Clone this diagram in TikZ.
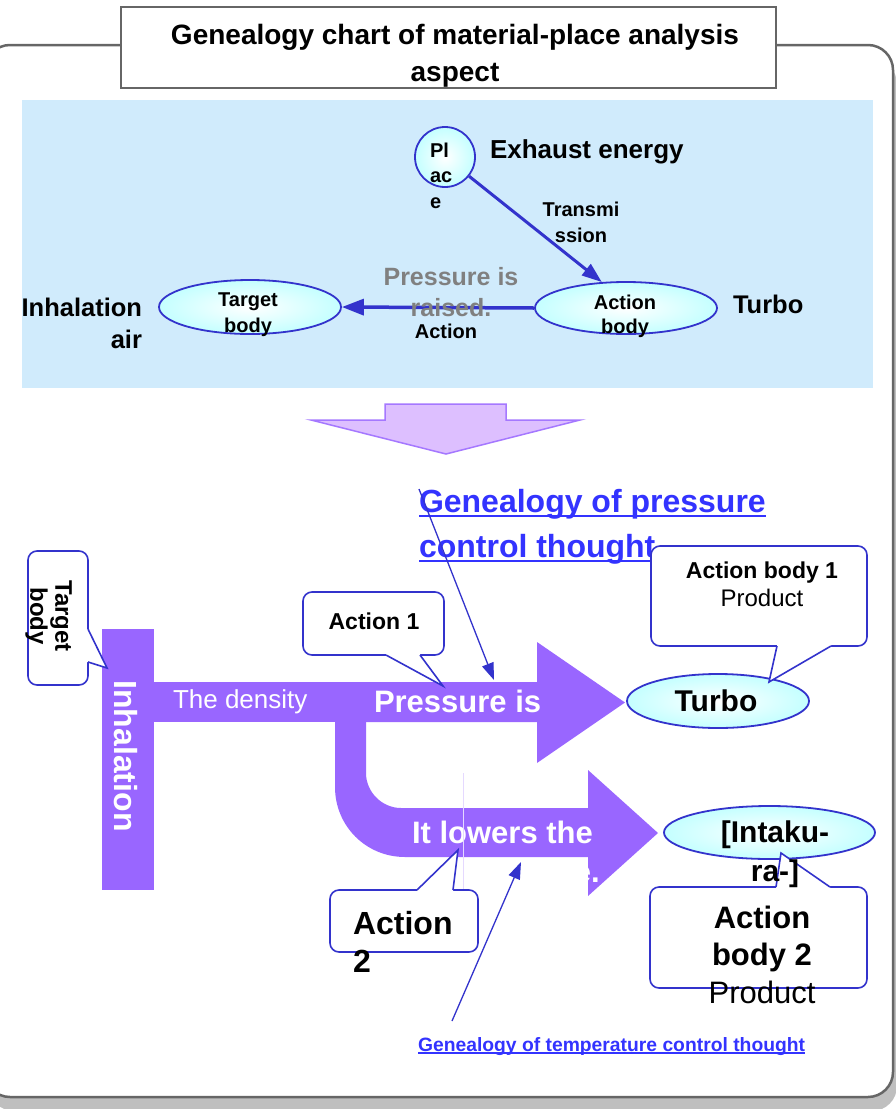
\documentclass[tikz,border=0pt]{standalone}
\usepackage{fontspec}
\setmainfont{Liberation Sans}
\usetikzlibrary{arrows.meta,shapes.geometric}

\definecolor{linkblue}{RGB}{51,51,255}
\definecolor{lineblue}{RGB}{51,51,204}
\definecolor{flowpurple}{RGB}{153,102,255}
\definecolor{skyfill}{RGB}{208,235,252}
\definecolor{framegray}{RGB}{102,102,102}
\definecolor{shadowgray}{RGB}{191,191,191}
\definecolor{lavfill}{RGB}{221,191,255}
\definecolor{lavline}{RGB}{165,120,255}
\definecolor{cyanfill}{RGB}{196,255,255}
\definecolor{pressgray}{RGB}{128,128,128}
\definecolor{faintlav}{RGB}{229,217,255}

% font size / baseline skip in one go
\newcommand\fsz[2]{\fontsize{#1}{#2}\selectfont}
% underlined link text: #1 = rule offset, #2 = rule thickness, #3 = text
\newcommand\ulink[3]{\setbox0\hbox{#3}\rlap{\rule[#1]{\wd0}{#2}}\box0}

\tikzset{
  txt/.style={inner sep=0pt, outer sep=0pt},
  ell/.style={ellipse, draw=lineblue, line width=1.8pt, inner color=white,
              outer color=cyanfill, inner sep=0pt},
  callbox/.style={draw=lineblue, line width=1.6pt, fill=white,
                  rounded corners=9pt, inner sep=0pt},
  tailline/.style={draw=lineblue, line width=1.6pt, line join=miter},
  thickarrow/.style={draw=lineblue, line width=3pt,
                     -{Triangle[length=20pt,width=14pt]}},
  linkarrow/.style={draw=lineblue, line width=1.3pt,
                    -{Triangle[length=17pt,width=12pt]}},
}

\begin{document}
\begin{tikzpicture}[x=1pt,y=-1pt]
\useasboundingbox (0,0) rectangle (896,1109);

% ---------- outer frame with its shadow ----------
\fill[shadowgray, rounded corners=25pt] (-11,59) rectangle (897,1111);
\draw[framegray, line width=2.5pt, fill=white, rounded corners=25pt]
  (-15,45) rectangle (893,1097);

% ---------- title ----------
\node[draw=framegray, line width=2pt, fill=white, minimum width=655pt,
      minimum height=81pt, inner sep=0pt] (titlebox) at (448,47.5) {};
\node[txt, anchor=north, align=center, font=\fsz{28}{37}\bfseries]
  (title) at (455,24.5) {Genealogy chart of material-place analysis\\aspect};

% ---------- material-place triangle ----------
\fill[skyfill] (22,100) rectangle (873,388);

\node[ell, minimum width=60pt, minimum height=60pt] (place) at (445,157) {};
\node[ell, minimum width=182pt, minimum height=54pt] (target) at (250,307) {};
\node[ell, minimum width=182pt, minimum height=52pt] (actbody) at (626,308) {};

\draw[thickarrow] (place) -- (actbody.133);
\draw[draw=lineblue, line width=3.5pt, -{Triangle[length=22pt,width=16pt]}]
  (actbody.west) -- (target.east);

\node[txt, anchor=north west, align=left, font=\fsz{20}{25.5}\bfseries]
  (placetxt) at (430,143) {Pl\\ac\\e};
\node[txt, anchor=base west, font=\fsz{26}{30}\bfseries]
  (exhaust) at (490,158) {Exhaust energy};
\node[txt, anchor=north, align=center, font=\fsz{20}{26}\bfseries]
  (transtxt) at (581,202) {Transmi\\ssion};
\node[txt, anchor=north, align=center, font=\fsz{20}{26}\bfseries]
  (targettxt) at (248,293) {Target\\body};
\node[txt, anchor=north, align=center, font=\fsz{20}{24}\bfseries]
  (actbodytxt) at (625,295) {Action\\body};
\node[txt, anchor=north, align=center, text=pressgray, font=\fsz{25}{31}\bfseries]
  (raisedtxt) at (451,267) {Pressure is\\raised.};
\node[txt, anchor=base, font=\fsz{20}{24}\bfseries]
  (actiontxt) at (446,338) {Action};
\node[txt, anchor=north east, align=right, font=\fsz{25.5}{32}\bfseries]
  (inhaltop) at (142,298) {Inhalation\\air};
\node[txt, anchor=base west, font=\fsz{25.5}{30}\bfseries]
  (turbotop) at (733,313) {Turbo};

% ---------- transition arrow ----------
\filldraw[fill=lavfill, draw=lavline, line width=1.5pt, line join=miter]
  (385,404) -- (506,404) -- (506,420) -- (580,420) -- (446,454)
  -- (311,420) -- (385,420) -- cycle;

% ---------- pressure-control link ----------
\node[txt, anchor=north west, align=left, text=linkblue, font=\fsz{32}{45}\bfseries]
  (link1) at (419,489)
  {\ulink{-5pt}{1.8pt}{Genealogy of pressure}\\\ulink{-5pt}{1.8pt}{control thought}};

% ---------- flow of the intake air ----------
\fill[flowpurple] (102,629) rectangle (154,890);
\fill[flowpurple] (153,682) rectangle (336,722);
\fill[flowpurple] (335,682) -- (537,682) -- (537,642) -- (625,702.5)
  -- (537,763) -- (537,722) -- (335,722) -- cycle;
\fill[flowpurple] (335,682) -- (366,682) -- (366,773)
  .. controls (366,792) and (382,808) .. (401,808)
  -- (588,808) -- (588,770) -- (658,833) -- (588,896) -- (588,857) -- (405,857)
  .. controls (366,857) and (335,826) .. (335,787) -- cycle;

\node[txt, rotate=-90, text=white, font=\fsz{32}{36}\bfseries]
  (inhal) at (126,756) {Inhalation};
\node[txt, anchor=base west, text=white, font=\fsz{26}{30}]
  (density) at (173,708) {The density};
\node[txt, anchor=base west, text=white, font=\fsz{31}{36}\bfseries]
  (presstxt) at (374,712) {Pressure is};
\node[txt, anchor=north west, align=left, text=white, font=\fsz{31}{39}\bfseries]
  (lowertxt) at (412,821) {It lowers the\\temperature.};

\draw[faintlav, line width=1pt] (463,773) -- (463,890);

% ---------- product ellipses ----------
\node[ell, minimum width=182pt, minimum height=54pt] (turbo) at (718,701) {};
\node[ell, minimum width=211pt, minimum height=53pt] (intake) at (769.5,832.5) {};

% ---------- callouts ----------
% target body
\node[callbox, minimum width=60pt, minimum height=134pt] (cTarget) at (58,618) {};
\fill[white] (85,629) -- (88,629) -- (107,668) -- (88,662) -- (85,662) -- cycle;
\draw[tailline] (88,629) -- (107,668) -- (88,662);
\node[txt, rotate=-90, anchor=north, align=center, font=\fsz{24}{25}\bfseries]
  (cTargetTxt) at (72,616) {Target\\body};

% action 1
\node[callbox, minimum width=141pt, minimum height=63pt] (cAct1) at (373.5,623.5) {};
\fill[white] (386,652) -- (386,655) -- (443,686) -- (420,655) -- (420,652) -- cycle;
\draw[tailline] (386,655) -- (443,686) -- (420,655);
\node[txt, anchor=base, font=\fsz{23}{28}\bfseries] (cAct1Txt) at (374,629) {Action 1};

% action body 1
\node[callbox, minimum width=216pt, minimum height=100pt] (cBody1) at (759,596) {};
\fill[white] (777,643) -- (777,646) -- (769,682) -- (831,646) -- (831,643) -- cycle;
\draw[tailline] (777,646) -- (769,682) -- (831,646);
\node[txt, anchor=north, align=center, font=\fsz{23}{28}]
  (cBody1Txt) at (762,562) {{\bfseries Action body 1}\\{\fontsize{24}{28}\selectfont Product}};

% action 2
\node[callbox, minimum width=148pt, minimum height=62pt] (cAct2) at (404,921) {};
\fill[white] (417,893) -- (417,890) -- (458,850) -- (453,890) -- (453,893) -- cycle;
\draw[tailline] (417,890) -- (458,850) -- (453,890);
\node[txt, anchor=north west, align=left, font=\fsz{32}{38}\bfseries]
  (cAct2Txt) at (353,911) {Action\\2};

% action body 2
\node[callbox, minimum width=217pt, minimum height=101pt] (cBody2) at (758.5,937.5) {};
\fill[white] (776,890) -- (776,887) -- (781,853) -- (830,887) -- (830,890) -- cycle;
\draw[tailline] (776,887) -- (781,853) -- (830,887);
\node[txt, anchor=north, align=center, font=\fsz{31}{37.5}]
  (cBody2Txt) at (762,906) {{\bfseries Action}\\{\bfseries body 2}\\Product};

% ellipse labels
\node[txt, anchor=base, font=\fsz{30}{36}\bfseries] (turboTxt) at (716,711) {Turbo};
\node[txt, anchor=north, align=center, font=\fsz{30}{39}\bfseries]
  (intakeTxt) at (775,821) {[Intaku-\\ra-]};

% ---------- link arrows ----------
\coordinate (p1tip) at (494,680);
\draw[linkarrow] (link1.north west) -- (p1tip);

\coordinate (p2tail) at (452,1021);
\coordinate (p2tip) at (521,862);
\draw[linkarrow] (p2tail) -- (p2tip);

\node[txt, anchor=base west, text=linkblue, font=\fsz{19.3}{22}\bfseries]
  (link2) at (418,1051) {\ulink{-2.5pt}{1.2pt}{Genealogy of temperature control thought}};

\end{tikzpicture}
\end{document}
